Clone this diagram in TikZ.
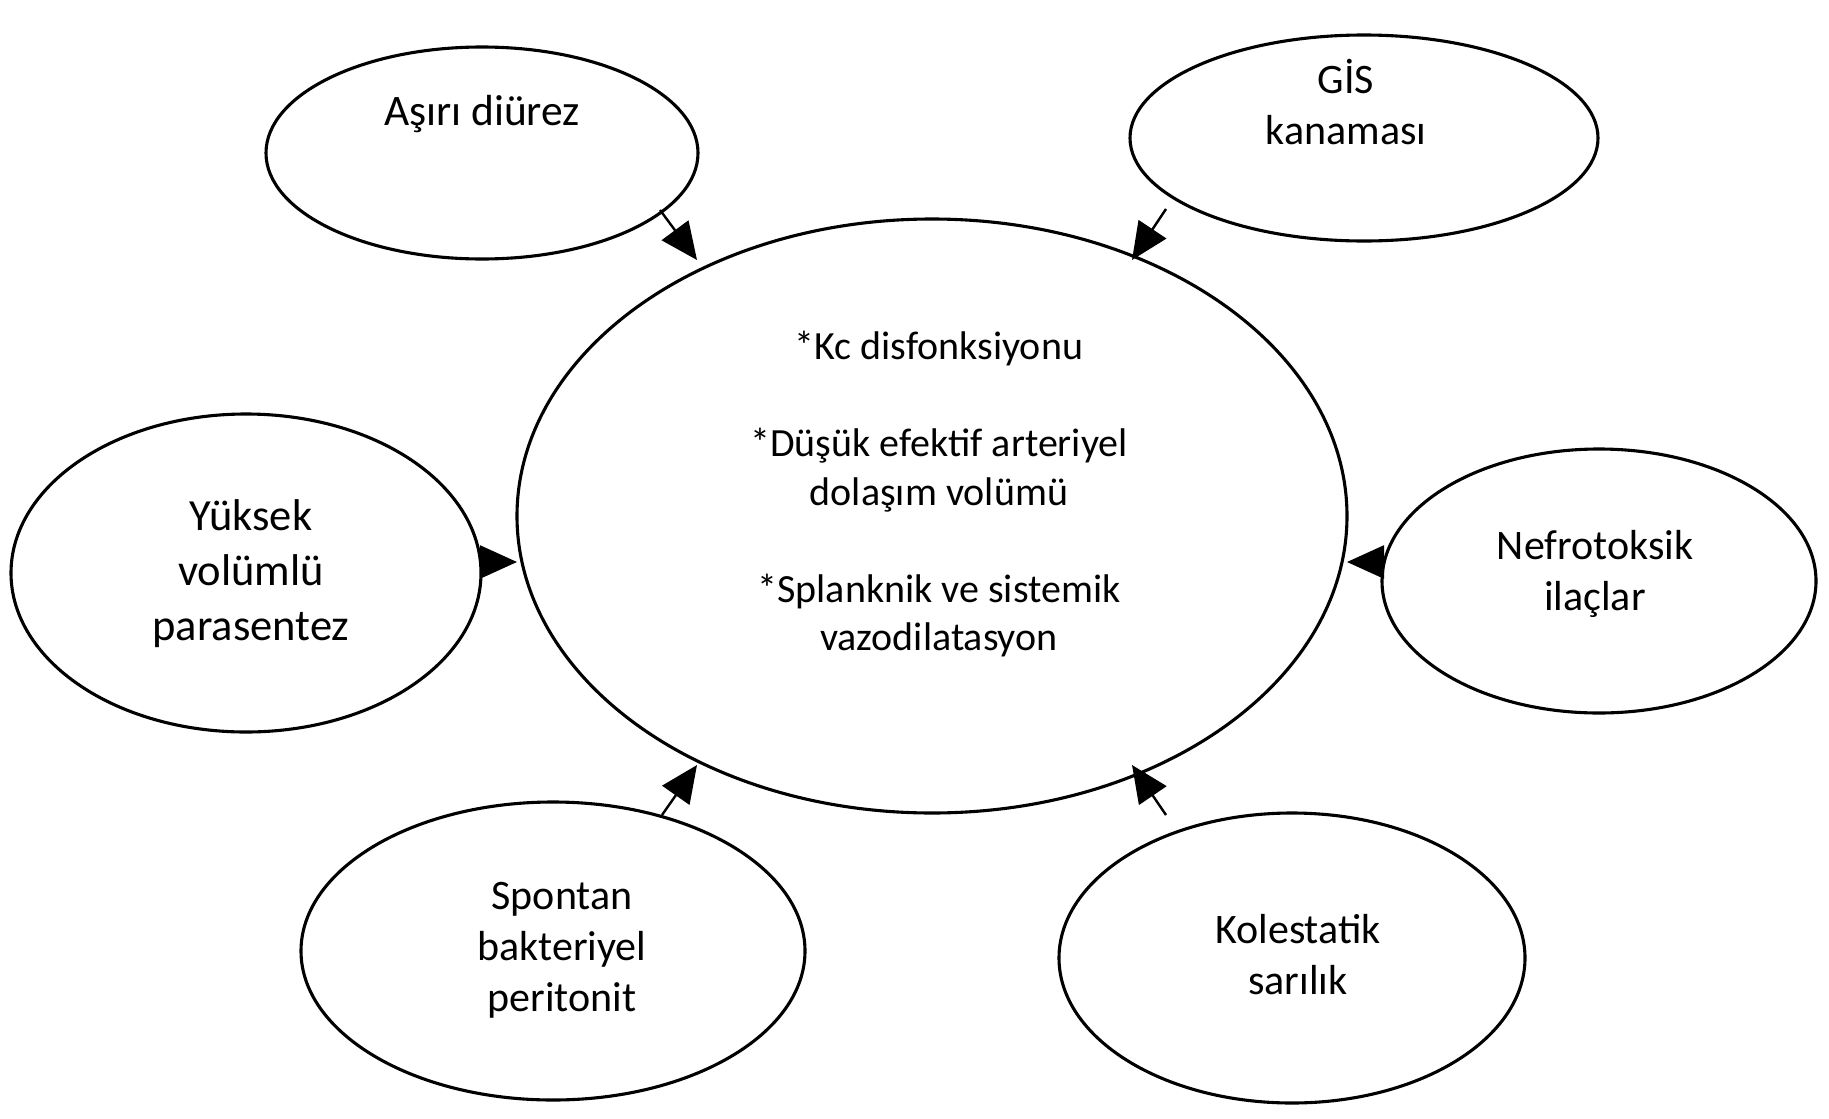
\documentclass[tikz,border=0pt]{standalone}
\usepackage{fontspec}
\setmainfont{Carlito}
\usetikzlibrary{shapes.geometric,arrows.meta}
\begin{document}
\begin{tikzpicture}[x=1pt,y=-1pt,
  oval/.style={draw=black,line width=3.1pt,ellipse,inner sep=0pt,fill=white},
  lbl/.style={align=center,inner sep=0pt,font=\fontsize{42}{51}\selectfont},
  arr/.style={line width=2.4pt,-{Triangle[length=37pt,width=33pt]}}]
\useasboundingbox (0,0) rectangle (1829,1119);
\fill[white] (0,0) rectangle (1829,1119);
% ellipses
\node[oval,minimum width=830pt,minimum height=594pt] (c) at (932,516) {};
\node[oval,minimum width=432pt,minimum height=212pt] (a) at (482,153) {};
\node[oval,minimum width=468pt,minimum height=206pt] (g) at (1364,138) {};
\node[oval,minimum width=470pt,minimum height=318pt] (y) at (246,573) {};
\node[oval,minimum width=434pt,minimum height=264pt] (n) at (1599,581) {};
\node[oval,minimum width=504pt,minimum height=298pt] (s) at (553,951) {};
\node[oval,minimum width=466pt,minimum height=290pt] (k) at (1292,958) {};
% texts
\node[lbl,font=\fontsize{43.5}{51}\selectfont] (ta) at (482,114.5) {Aşırı diürez};
\node[lbl] (tg) at (1346,102.5) {GİS\\kanaması};
\node[lbl,font=\fontsize{44.5}{55}\selectfont] (ty) at (251,573.5) {Yüksek\\volümlü\\parasentez};
\node[lbl] (tn) at (1595,573.5) {Nefrotoksik\\ilaçlar};
\node[lbl] (ts) at (562,950.5) {Spontan\\bakteriyel\\peritonit};
\node[lbl] (tk) at (1298,955) {Kolestatik\\sarılık};
\node[lbl,font=\fontsize{40}{48.5}\selectfont] (tc) at (939,494.5)
  {*Kc disfonksiyonu\\[48.5pt]*Düşük efektif arteriyel\\dolaşım volümü\\[48.5pt]*Splanknik ve sistemik\\vazodilatasyon};
% connector end points
\coordinate (a1) at (660,210); \coordinate (a2) at (697,260);
\coordinate (g1) at (1166,209); \coordinate (g2) at (1132,260);
\coordinate (y1) at (480,562); \coordinate (y2) at (517,562);
\coordinate (n1) at (1385,562); \coordinate (n2) at (1347,562);
\coordinate (s1) at (662,815); \coordinate (s2) at (697,765);
\coordinate (k1) at (1166,815); \coordinate (k2) at (1132,765);
\draw[arr] (a1) -- (a2);
\draw[arr] (g1) -- (g2);
\draw[arr] (y1) -- (y2);
\draw[arr] (n1) -- (n2);
\draw[arr] (s1) -- (s2);
\draw[arr] (k1) -- (k2);
\end{tikzpicture}
\end{document}
